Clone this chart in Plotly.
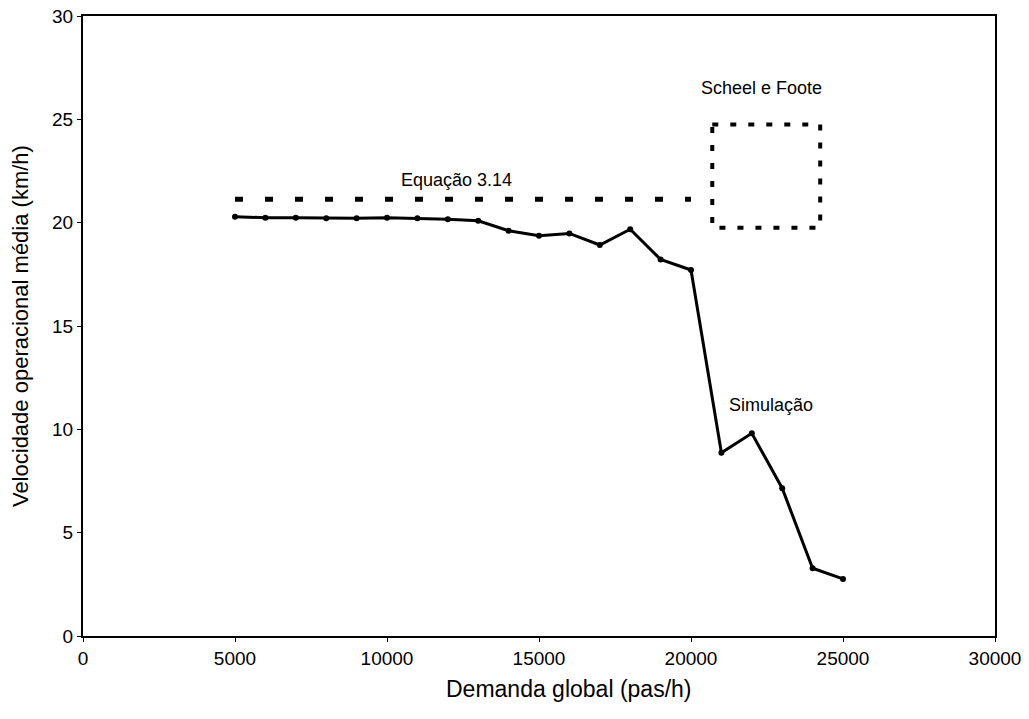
import plotly.graph_objects as go

# Simulated mean operating speed vs. global demand
demanda = [5000, 6000, 7000, 8000, 9000, 10000, 11000, 12000, 13000, 14000,
           15000, 16000, 17000, 18000, 19000, 20000, 21000, 22000, 23000,
           24000, 25000]
velocidade_sim = [20.29, 20.24, 20.24, 20.21, 20.21, 20.24, 20.21, 20.17,
                  20.09, 19.61, 19.37, 19.48, 18.92, 19.68, 18.22, 17.71,
                  8.87, 9.81, 7.15, 3.28, 2.76]

# Equation 3.14 estimate (constant over the demand range)
equacao_x = [5000, 20000]
equacao_y = [21.13, 21.13]

# Scheel e Foote range (demand x speed rectangle)
scheel_x = [20700, 24250, 24250, 20700, 20700]
scheel_y = [24.75, 24.75, 19.75, 19.75, 24.75]

x_ticks = [0, 5000, 10000, 15000, 20000, 25000, 30000]
y_ticks = [0, 5, 10, 15, 20, 25, 30]

FONT = "Liberation Sans, Arial, sans-serif"

fig = go.Figure()

fig.add_trace(go.Scatter(
    x=equacao_x, y=equacao_y, mode="lines",
    line=dict(color="black", width=5, dash="8px,22px"),
    showlegend=False, hoverinfo="skip",
))

fig.add_trace(go.Scatter(
    x=scheel_x, y=scheel_y, mode="lines",
    line=dict(color="black", width=4, dash="6px,12px"),
    showlegend=False, hoverinfo="skip",
))

fig.add_trace(go.Scatter(
    x=demanda, y=velocidade_sim, mode="lines+markers",
    line=dict(color="black", width=3),
    marker=dict(color="black", size=6, symbol="circle"),
    showlegend=False,
))

labels = [
    ("Equação 3.14", 12270, 22.06),
    ("Scheel e Foote", 22330, 26.5),
    ("Simulação", 22630, 11.18),
]
for txt, x, y in labels:
    fig.add_annotation(x=x, y=y, text=txt, showarrow=False,
                       xanchor="center", yanchor="middle",
                       font=dict(family=FONT, size=18, color="black"))

# Axis titles
fig.add_annotation(x=0.532, y=-0.085, xref="paper", yref="paper",
                   text="Demanda global (pas/h)", showarrow=False,
                   xanchor="center", yanchor="middle",
                   font=dict(family=FONT, size=23, color="black"))
fig.add_annotation(x=-0.069, y=0.5, xref="paper", yref="paper",
                   text="Velocidade operacional média (km/h)", showarrow=False,
                   textangle=-90, xanchor="center", yanchor="middle",
                   font=dict(family=FONT, size=22, color="black"))

axis_common = dict(
    showgrid=False, zeroline=False,
    showline=True, linecolor="black", linewidth=2, mirror=True,
    ticks="outside", ticklen=4, tickcolor="black", tickwidth=1,
    tickfont=dict(family=FONT, size=19, color="black"),
)

fig.update_xaxes(range=[0, 30000], tickvals=x_ticks,
                 ticktext=[str(v) for v in x_ticks], **axis_common)
fig.update_yaxes(range=[0, 30], tickvals=y_ticks,
                 ticktext=[str(v) for v in y_ticks], **axis_common)

fig.update_layout(
    width=1029, height=719,
    margin=dict(l=83, r=34, t=16, b=83, autoexpand=False),
    plot_bgcolor="white", paper_bgcolor="white",
    font=dict(family=FONT, color="black"),
)

fig.write_html("out.html")
